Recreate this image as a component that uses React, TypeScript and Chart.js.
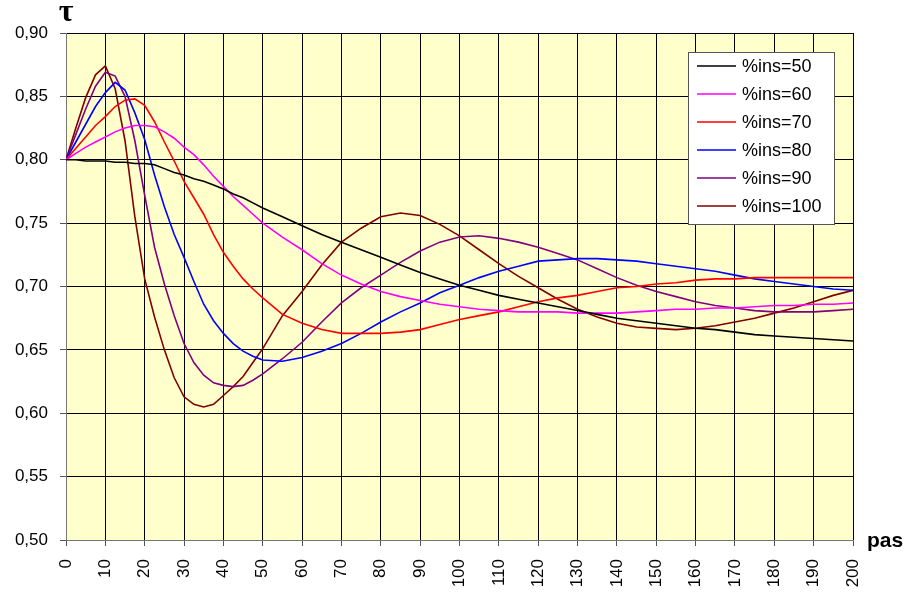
import React, { useEffect, useRef } from "react";
import { Chart, registerables } from "chart.js";

Chart.register(...registerables);

const steps = [
  0, 2.5, 5, 7.5, 10, 12.5, 15, 17.5, 20, 22.5, 25, 27.5, 30, 32.5, 35, 37.5, 40, 42.5, 45, 47.5, 50,
  55, 60, 65, 70, 75, 80, 85, 90, 95, 100, 105, 110, 115, 120, 125, 130, 135, 140, 145, 150,
  155, 160, 165, 170, 175, 180, 185, 190, 195, 200,
];

const ins50 = [
  0.800, 0.800, 0.799, 0.799, 0.799, 0.798, 0.798, 0.797, 0.797, 0.796, 0.793, 0.790, 0.788, 0.785, 0.783, 0.780, 0.777, 0.773, 0.770, 0.766, 0.762,
  0.755, 0.748, 0.741, 0.735, 0.729, 0.723, 0.717, 0.711, 0.706, 0.701,
  0.697, 0.693, 0.690, 0.687, 0.684, 0.681, 0.678, 0.675, 0.673, 0.671,
  0.669, 0.667, 0.666, 0.664, 0.662, 0.661, 0.660, 0.659, 0.658, 0.657,
];
const ins60 = [
  0.800, 0.805, 0.810, 0.814, 0.818, 0.822, 0.825, 0.827, 0.827, 0.826, 0.822, 0.817, 0.810, 0.804, 0.796, 0.787, 0.779, 0.771, 0.764, 0.757, 0.750,
  0.739, 0.729, 0.718, 0.709, 0.702, 0.696, 0.692, 0.689, 0.686, 0.684,
  0.682, 0.681, 0.680, 0.680, 0.680, 0.679, 0.679, 0.679, 0.680, 0.681,
  0.682, 0.682, 0.683, 0.683, 0.684, 0.685, 0.685, 0.686, 0.686, 0.687,
];
const ins70 = [
  0.800, 0.809, 0.818, 0.827, 0.834, 0.842, 0.847, 0.848, 0.843, 0.830, 0.814, 0.799, 0.783, 0.770, 0.757, 0.741, 0.727, 0.716, 0.706, 0.698, 0.691,
  0.678, 0.671, 0.666, 0.663, 0.663, 0.663, 0.664, 0.666, 0.670, 0.674,
  0.677, 0.680, 0.684, 0.688, 0.691, 0.693, 0.696, 0.699, 0.700, 0.702,
  0.703, 0.705, 0.706, 0.706, 0.707, 0.707, 0.707, 0.707, 0.707, 0.707,
];
const ins80 = [
  0.800, 0.814, 0.828, 0.842, 0.853, 0.861, 0.855, 0.837, 0.816, 0.788, 0.763, 0.741, 0.723, 0.704, 0.686, 0.673, 0.663, 0.655, 0.649, 0.645, 0.642,
  0.641, 0.644, 0.649, 0.655, 0.663, 0.672, 0.680, 0.687, 0.695, 0.701,
  0.707, 0.712, 0.716, 0.720, 0.721, 0.722, 0.722, 0.721, 0.720, 0.718,
  0.716, 0.714, 0.712, 0.709, 0.706, 0.704, 0.702, 0.700, 0.698, 0.697,
];
const ins90 = [
  0.800, 0.820, 0.840, 0.858, 0.869, 0.866, 0.850, 0.815, 0.772, 0.731, 0.702, 0.677, 0.655, 0.640, 0.630, 0.624, 0.622, 0.621, 0.622, 0.626, 0.631,
  0.643, 0.656, 0.672, 0.687, 0.699, 0.709, 0.719, 0.728, 0.735, 0.739,
  0.740, 0.738, 0.735, 0.731, 0.726, 0.721, 0.714, 0.707, 0.701, 0.696,
  0.692, 0.688, 0.685, 0.683, 0.681, 0.680, 0.680, 0.680, 0.681, 0.682,
];
const ins100 = [
  0.800, 0.825, 0.849, 0.867, 0.874, 0.856, 0.815, 0.755, 0.706, 0.676, 0.650, 0.628, 0.613, 0.607, 0.605, 0.607, 0.614, 0.621, 0.629, 0.640, 0.651,
  0.677, 0.696, 0.717, 0.735, 0.746, 0.755, 0.758, 0.756, 0.749, 0.740,
  0.729, 0.718, 0.708, 0.699, 0.690, 0.682, 0.676, 0.671, 0.668, 0.667,
  0.666, 0.667, 0.669, 0.672, 0.675, 0.679, 0.683, 0.688, 0.693, 0.697,
];

const seriesLabels = ["%ins=50", "%ins=60", "%ins=70", "%ins=80", "%ins=90", "%ins=100"];
const seriesColors = ["#000000", "#FF00FF", "#FF0000", "#0000FF", "#800080", "#800000"];
const seriesValues = [ins50, ins60, ins70, ins80, ins90, ins100];

const yTitle = "τ";
const xTitle = "pas";

const SANS = '"Liberation Sans", Arial, sans-serif';

const decorPlugin = {
  id: "decor",
  beforeDraw(chart: any) {
    const { ctx, chartArea } = chart;
    ctx.save();
    ctx.fillStyle = "#FFFFCC";
    ctx.fillRect(chartArea.left, chartArea.top, chartArea.right - chartArea.left, chartArea.bottom - chartArea.top);
    ctx.restore();
  },
  afterDraw(chart: any) {
    const { ctx, chartArea } = chart;
    ctx.save();
    // axis titles
    ctx.fillStyle = "#000";
    ctx.font = 'bold 32px "Liberation Serif", "Times New Roman", serif';
    ctx.textAlign = "center";
    ctx.textBaseline = "alphabetic";
    ctx.fillText(yTitle, chartArea.left, 21);
    ctx.font = `bold 21px ${SANS}`;
    ctx.textAlign = "left";
    ctx.fillText(xTitle, chartArea.right + 14, chartArea.bottom + 7);

    // legend
    const bx = 688.5, by = 52.5, bw = 146, bh = 172;
    ctx.fillStyle = "#FFFFFF";
    ctx.fillRect(bx, by, bw, bh);
    ctx.strokeStyle = "#555";
    ctx.lineWidth = 1;
    ctx.strokeRect(bx, by, bw, bh);
    ctx.font = `18px ${SANS}`;
    ctx.textBaseline = "middle";
    chart.data.datasets.forEach((ds: any, i: number) => {
      const y = 66 + i * 28;
      ctx.strokeStyle = ds.borderColor;
      ctx.lineWidth = 1.5;
      ctx.beginPath();
      ctx.moveTo(697, y);
      ctx.lineTo(736, y);
      ctx.stroke();
      ctx.fillStyle = "#000";
      ctx.fillText(ds.label, 742, y + 1);
    });
    ctx.restore();
  },
};

export default function App() {
  const ref = useRef<HTMLCanvasElement | null>(null);
  useEffect(() => {
    if (!ref.current) return;
    const chart = new Chart(ref.current, {
      type: "line",
      data: {
        datasets: seriesValues.map((vals, i) => ({
          label: seriesLabels[i],
          data: steps.map((x, j) => ({ x, y: vals[j] })),
          borderColor: seriesColors[i],
          backgroundColor: seriesColors[i],
          borderWidth: 1.6,
          pointRadius: 0,
          tension: 0,
          fill: false,
        })),
      },
      options: {
        responsive: false,
        animation: false,
        layout: { padding: { top: 33, right: 56, left: 0, bottom: 0 } },
        plugins: { legend: { display: false }, tooltip: { enabled: false } },
        scales: {
          x: {
            type: "linear",
            min: 0,
            max: 200,
            afterFit: (s: any) => { s.height = 54; },
            ticks: {
              stepSize: 10,
              autoSkip: false,
              minRotation: 90,
              maxRotation: 90,
              padding: 13,
              color: "#000",
              font: { family: SANS, size: 17 },
            },
            grid: { color: "#000", lineWidth: 1, tickLength: 6, tickColor: "#555" },
            border: { color: "#777", width: 1 },
          },
          y: {
            type: "linear",
            min: 0.5,
            max: 0.9,
            afterFit: (s: any) => { s.width = 66; },
            ticks: {
              stepSize: 0.05,
              padding: 12,
              color: "#000",
              font: { family: SANS, size: 17 },
              callback: (v: any) => Number(v).toFixed(2).replace(".", ","),
            },
            grid: { color: "#000", lineWidth: 1, tickLength: 6, tickColor: "#555" },
            border: { color: "#777", width: 1 },
          },
        },
      },
      plugins: [decorPlugin],
    });
    return () => chart.destroy();
  }, []);
  return (
    <div style={{ position: "absolute", left: 0, top: 0, width: 909, height: 594, background: "#fff" }}>
      <canvas ref={ref} width={909} height={594} style={{ display: "block" }} />
    </div>
  );
}
